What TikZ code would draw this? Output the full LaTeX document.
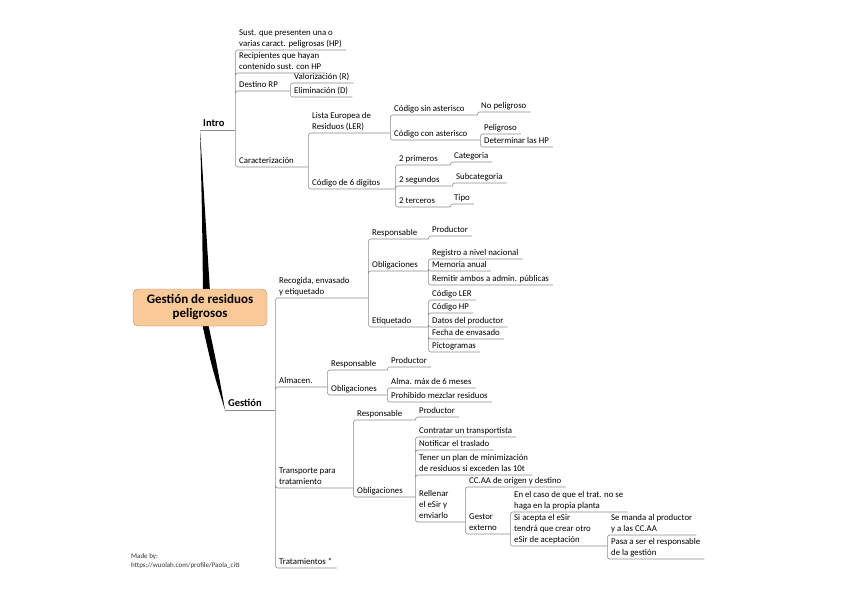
\documentclass[tikz,border=0pt]{standalone}
\usepackage{fontspec}
\setmainfont{Carlito}
\usepackage{tikz}
\usetikzlibrary{positioning,backgrounds}
\definecolor{linegray}{RGB}{140,140,140}
\definecolor{rootfill}{RGB}{250,201,152}
\definecolor{rootdraw}{RGB}{170,135,100}

\begin{document}
\begin{tikzpicture}[
    x=1pt, y=-1pt,
    font=\fontsize{8.8}{11}\selectfont,
    topic/.style={anchor=south west,inner xsep=4pt,inner ysep=0pt,align=flush left,
                  execute at end node=\strut},
    main/.style={anchor=south west,inner xsep=3pt,inner ysep=0pt,align=flush left,
                 font=\fontsize{10.5}{12}\selectfont\bfseries,
                 execute at end node=\strut},
    root/.style={draw=rootdraw,fill=rootfill,rounded corners=5pt,align=center,
                 minimum width=134pt,minimum height=37pt,
                 font=\fontsize{13}{14}\selectfont\bfseries},
    madeby/.style={anchor=west,inner sep=0pt,align=flush left,text=black!80,
                   font=\fontsize{7}{9}\selectfont},
    link/.style={draw=linegray,line width=0.6pt,rounded corners=2.5pt},
    branch/.style={fill=black},
  ]
  \useasboundingbox (0,0) rectangle (848,599);

  \node[root] (GRP) at (200,307.5) {Gestión de residuos\\peligrosos};

  % Intro
  \node[main,text width=29pt] (INTRO) at (200,130) {Intro};
  \node[topic] (SUST)  at (235,50) {Sust. que presenten una o\\varias caract. peligrosas (HP)};
  \node[topic] (RECIP) at (235,73) {Recipientes que hayan\\contenido sust. con HP};
  \node[topic,text width=47pt] (DEST) at (235,91) {Destino RP};
  \node[topic] (VALOR) at (290,83) {Valorización (R)};
  \node[topic] (ELIM)  at (290,97) {Eliminación (D)};
  \node[topic,text width=65pt] (CARAC) at (235,167) {Caracterización};
  \node[topic,text width=74pt] (LER) at (308,133) {Lista Europea de\\Residuos (LER)};
  \node[topic,text width=79pt] (CSIN) at (390,115) {Código sin asterisco};
  \node[topic] (NOPEL) at (477,112) {No peligroso};
  \node[topic,text width=82pt] (CCON) at (390,140) {Código con asterisco};
  \node[topic] (PELIG) at (480,134) {Peligroso};
  \node[topic] (DETHP) at (480,147) {Determinar las HP};
  \node[topic,text width=79pt] (COD6) at (308,189) {Código de 6 digitos};
  \node[topic,text width=47pt] (PRIM) at (395,165) {2 primeros};
  \node[topic] (CATEG) at (450,162) {Categoria};
  \node[topic,text width=49pt] (SEGU) at (395,186) {2 segundos};
  \node[topic] (SUBC)  at (452,183) {Subcategoria};
  \node[topic,text width=47pt] (TERC) at (395,207) {2 terceros};
  \node[topic] (TIPO)  at (450,204) {Tipo};

  % Gestion
  \node[main,text width=44pt] (GEST) at (225,410) {Gestión};
  \node[topic,text width=85pt] (RECOG) at (275,298) {Recogida, envasado\\y etiquetado};
  \node[topic,text width=52pt] (RESPA) at (368,239) {Responsable};
  \node[topic] (PRODA) at (428,236) {Productor};
  \node[topic,text width=52pt] (OBLA) at (368,271) {Obligaciones};
  \node[topic] (REGIS) at (428,259) {Registro a nivel nacional};
  \node[topic] (MEMO)  at (428,271) {Memoria anual};
  \node[topic] (REMIT) at (428,285) {Remitir ambos a admin. públicas};
  \node[topic,text width=52pt] (ETIQ) at (368,327) {Etiquetado};
  \node[topic] (CLER)  at (428,300) {Código LER};
  \node[topic] (CHP)   at (428,313) {Código HP};
  \node[topic] (DATOS) at (428,327) {Datos del productor};
  \node[topic] (FECHA) at (428,339) {Fecha de envasado};
  \node[topic] (PICTO) at (428,352) {Pictogramas};
  \node[topic,text width=44pt] (ALMAC) at (275,387) {Almacen.};
  \node[topic,text width=52pt] (RESPB) at (327,370) {Responsable};
  \node[topic] (PRODB) at (387,367) {Productor};
  \node[topic,text width=52pt] (OBLB) at (327,395) {Obligaciones};
  \node[topic] (ALMAX) at (387,388) {Alma. máx de 6 meses};
  \node[topic] (PROHI) at (387,402) {Prohibido mezclar residuos};
  \node[topic,text width=70pt] (TRANS) at (275,488) {Transporte para\\tratamiento};
  \node[topic,text width=54pt] (RESPC) at (353,420) {Responsable};
  \node[topic] (PRODC) at (415,417) {Productor};
  \node[topic,text width=54pt] (OBLC) at (353,497) {Obligaciones};
  \node[topic] (CONTR) at (415,437) {Contratar un transportista};
  \node[topic] (NOTIF) at (415,450) {Notificar el traslado};
  \node[topic] (PLAN)  at (415,475) {Tener un plan de minimización\\de residuos si exceden las 10t};
  \node[topic,text width=42pt] (RELLE) at (415,522) {Rellenar\\el eSir y\\enviarlo};
  \node[topic] (CCAA)  at (465,487) {CC.AA de origen y destino};
  \node[topic,text width=37pt] (GESTX) at (465,534) {Gestor\\externo};
  \node[topic] (ENCASO) at (510,512) {En el caso de que el trat. no se\\haga en la propia planta};
  \node[topic,text width=89pt] (SIACEP) at (510,546) {Si acepta el eSir\\tendrá que crear otro\\eSir de aceptación};
  \node[topic] (MANDA) at (607,535) {Se manda al productor\\y a las CC.AA};
  \node[topic] (PASA)  at (607,559) {Pasa a ser el responsable\\de la gestión};
  \node[topic] (TRATA) at (275,568) {Tratamientos *};

  \node[madeby] (MADE) at (131,561) {Made by:\\https://wuolah.com/profile/Paola\_citt};

  % main branches
  \begin{scope}[on background layer]
    \fill[branch] (INTRO.south west) .. controls (202,210) .. ([xshift=3pt,yshift=-3pt]GRP.north)
      -- ([xshift=10pt,yshift=-3pt]GRP.north) .. controls (205,210) .. (INTRO.south west);
    \fill[branch] ([xshift=2pt,yshift=3pt]GRP.south) .. controls (212,368) .. (GEST.south west)
      .. controls (217,365) .. ([xshift=8pt,yshift=3pt]GRP.south) -- cycle;
  \end{scope}

  % Intro links
  \draw[link] (INTRO.south west) -- (INTRO.south east);
  \draw[link] (INTRO.south east) |- (SUST.south east)
              (INTRO.south east) |- (RECIP.south east)
              (INTRO.south east) |- (DEST.south east)
              (INTRO.south east) |- (CARAC.south east);
  \draw[link] (DEST.south east) |- (VALOR.south east)
              (DEST.south east) |- (ELIM.south east);
  \draw[link] (CARAC.south east) |- (LER.south east)
              (CARAC.south east) |- (COD6.south east);
  \draw[link] (LER.south east) |- (CSIN.south east)
              (LER.south east) |- (CCON.south east);
  \draw[link] (CSIN.south east) |- (NOPEL.south east);
  \draw[link] (CCON.south east) |- (PELIG.south east)
              (CCON.south east) |- (DETHP.south east);
  \draw[link] (COD6.south east) |- (PRIM.south east)
              (COD6.south east) |- (SEGU.south east)
              (COD6.south east) |- (TERC.south east);
  \draw[link] (PRIM.south east) |- (CATEG.south east);
  \draw[link] (SEGU.south east) |- (SUBC.south east);
  \draw[link] (TERC.south east) |- (TIPO.south east);

  % Gestion links
  \draw[link] (GEST.south west) -- (GEST.south east);
  \draw[link] (GEST.south east) |- (RECOG.south east)
              (GEST.south east) |- (ALMAC.south east)
              (GEST.south east) |- (TRANS.south east)
              (GEST.south east) |- (TRATA.south east);
  \draw[link] (RECOG.south east) |- (RESPA.south east)
              (RECOG.south east) |- (OBLA.south east)
              (RECOG.south east) |- (ETIQ.south east);
  \draw[link] (RESPA.south east) |- (PRODA.south east);
  \draw[link] (OBLA.south east) |- (REGIS.south east)
              (OBLA.south east) |- (MEMO.south east)
              (OBLA.south east) |- (REMIT.south east);
  \draw[link] (ETIQ.south east) |- (CLER.south east)
              (ETIQ.south east) |- (CHP.south east)
              (ETIQ.south east) |- (DATOS.south east)
              (ETIQ.south east) |- (FECHA.south east)
              (ETIQ.south east) |- (PICTO.south east);
  \draw[link] (ALMAC.south east) |- (RESPB.south east)
              (ALMAC.south east) |- (OBLB.south east);
  \draw[link] (RESPB.south east) |- (PRODB.south east);
  \draw[link] (OBLB.south east) |- (ALMAX.south east)
              (OBLB.south east) |- (PROHI.south east);
  \draw[link] (TRANS.south east) |- (RESPC.south east)
              (TRANS.south east) |- (OBLC.south east);
  \draw[link] (RESPC.south east) |- (PRODC.south east);
  \draw[link] (OBLC.south east) |- (CONTR.south east)
              (OBLC.south east) |- (NOTIF.south east)
              (OBLC.south east) |- (PLAN.south east)
              (OBLC.south east) |- (RELLE.south east);
  \draw[link] (RELLE.south east) |- (CCAA.south east)
              (RELLE.south east) |- (GESTX.south east);
  \draw[link] (GESTX.south east) |- (ENCASO.south east)
              (GESTX.south east) |- (SIACEP.south east);
  \draw[link] (SIACEP.south east) |- (MANDA.south east)
              (SIACEP.south east) |- (PASA.south east);
\end{tikzpicture}
\end{document}
